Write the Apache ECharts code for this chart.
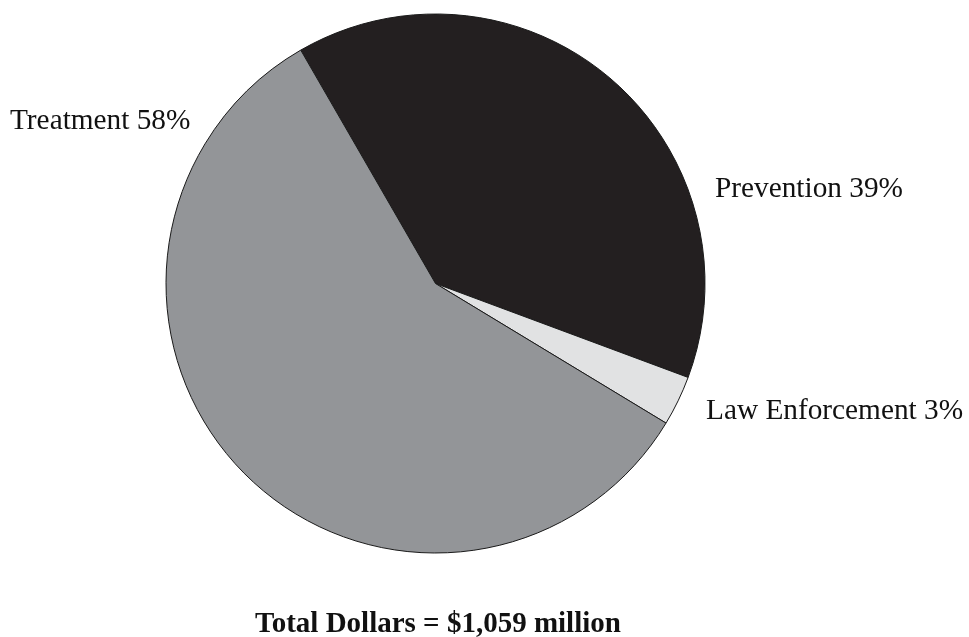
<!DOCTYPE html>
<html>
<head>
<meta charset="utf-8">
<script src="https://cdn.jsdelivr.net/npm/echarts@6/dist/echarts.min.js"></script>
<style>
  html, body { margin: 0; padding: 0; background: #ffffff; }
  #chart { width: 969px; height: 637px; }
</style>
</head>
<body>
<div id="chart"></div>
<script>
// Spending categories, in clockwise order from the top-left boundary
const categories = ['Prevention', 'Law Enforcement', 'Treatment'];
const percentShares = [39, 3, 58];
const totalLabel = 'Total Dollars = $1,059 million';

const sliceColors = ['#231f20', '#e1e2e3', '#939598'];
// Where each category label sits (left edge, vertical middle)
const labelSpots = [
  { x: 715, y: 189 },
  { x: 706, y: 411 },
  { x: 10, y: 121 }
];

const serif = '"Liberation Serif", "Times New Roman", serif';

const chart = echarts.init(document.getElementById('chart'), null, { renderer: 'canvas' });

chart.setOption({
  backgroundColor: '#ffffff',
  animation: false,
  title: {
    text: totalLabel,
    left: 250,
    top: 605,
    textStyle: {
      fontFamily: serif,
      fontSize: 29,
      fontWeight: 'bold',
      color: '#111111'
    }
  },
  series: [{
    type: 'pie',
    center: [435.5, 283.5],
    radius: [0, 269.5],
    startAngle: 120,
    clockwise: true,
    avoidLabelOverlap: false,
    itemStyle: {
      borderColor: '#1a1a1a',
      borderWidth: 1
    },
    label: {
      show: true,
      position: 'outside',
      formatter: (p) => p.name + ' ' + p.value + '%',
      fontFamily: serif,
      fontSize: 29.3,
      color: '#111111'
    },
    labelLine: { show: false },
    labelLayout: (params) => {
      const spot = labelSpots[params.dataIndex];
      return { x: spot.x, y: spot.y, align: 'left', verticalAlign: 'middle' };
    },
    emphasis: { disabled: true },
    data: categories.map((name, i) => ({
      name: name,
      value: percentShares[i],
      itemStyle: { color: sliceColors[i] }
    }))
  }]
});
</script>
</body>
</html>
